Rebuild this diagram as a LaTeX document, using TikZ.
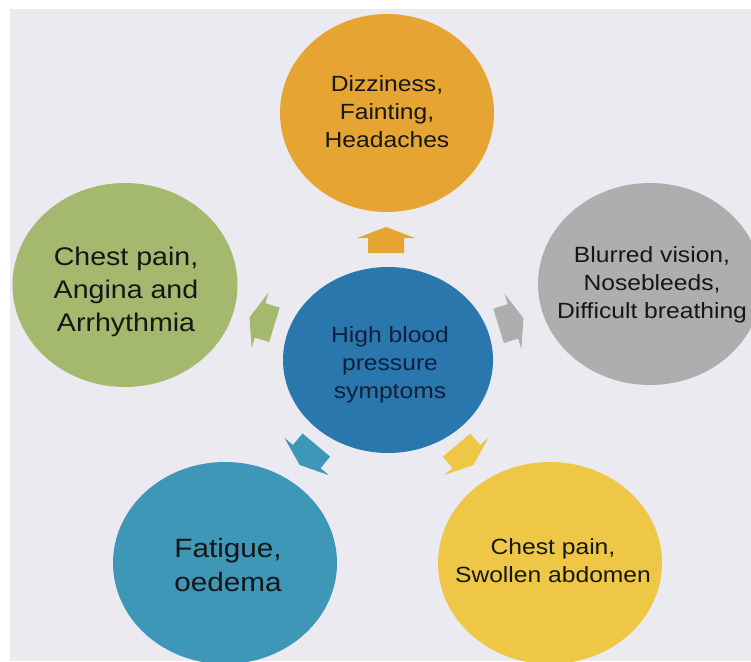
\documentclass[tikz,border=0pt]{standalone}
\usepackage{fontspec}
\setmainfont[FakeStretch=1.12]{Liberation Sans}
\usetikzlibrary{shapes.geometric}
\definecolor{bgC}{HTML}{EBEAF0}
\definecolor{orangeC}{HTML}{E6A532}
\definecolor{greenC}{HTML}{A4B96E}
\definecolor{grayC}{HTML}{ADAFAE}
\definecolor{blueC}{HTML}{2A77AD}
\definecolor{tealC}{HTML}{3E97B6}
\definecolor{yellowC}{HTML}{EFC746}
\definecolor{txtC}{HTML}{161616}
\definecolor{navyC}{HTML}{10203C}
\tikzset{
  bubble/.style={ellipse, inner sep=0pt, outer sep=0pt, draw=none},
  lbl/.style={align=center, inner sep=0pt, text=txtC},
  fsmall/.style={font=\fontsize{22}{28}\selectfont},
  fbig/.style={font=\fontsize{25.5}{33}\selectfont},
  blockarrow/.pic={\fill[#1] (-13,-18) -- (2,-18) -- (2,-29) -- (13,0) -- (2,29) -- (2,18) -- (-13,18) -- cycle;}
}
\begin{document}
\begin{tikzpicture}[x=1pt,y=-1pt]
\useasboundingbox (0,0) rectangle (751,661);
\clip (0,0) rectangle (751,661);
\fill[white] (0,0) rectangle (751,661);
\fill[bgC] (10,9) rectangle (751,661);
% bubbles
\node[bubble, fill=orangeC, minimum width=214pt, minimum height=198pt] (top) at (387,113) {};
\node[bubble, fill=greenC, minimum width=225pt, minimum height=204pt] (left) at (125,285) {};
\node[bubble, fill=grayC, minimum width=224pt, minimum height=202pt] (right) at (650,284) {};
\node[bubble, fill=blueC, minimum width=210pt, minimum height=186pt] (hub) at (388,360) {};
\node[bubble, fill=tealC, minimum width=224pt, minimum height=202pt] (botleft) at (225,563) {};
\node[bubble, fill=yellowC, minimum width=224pt, minimum height=202pt] (botright) at (550,563) {};
% labels
\node[lbl, fsmall] (ttop) at (387,112) {Dizziness,\\Fainting,\\Headaches};
\node[lbl, fbig] (tleft) at (126,292) {Chest pain,\\Angina and\\Arrhythmia};
\node[lbl, fsmall] (tright) at (652,285) {Blurred vision,\\Nosebleeds,\\Difficult breathing};
\node[lbl, fsmall, text=navyC] (thub) at (390,365) {High blood\\pressure\\symptoms};
\node[lbl, font=\fontsize{26.5}{34}\selectfont] (tbotleft) at (228,565) {Fatigue,\\oedema};
\node[lbl, fsmall] (tbotright) at (553,561) {Chest pain,\\Swollen abdomen};
% arrows
\pic[rotate=90] (atop) at (386,240) {blockarrow=orangeC};
\pic[rotate=163] (aleft) at (262,321) {blockarrow=greenC};
\pic[rotate=17] (aright) at (511,322) {blockarrow=grayC};
\pic[rotate=230] (abl) at (308,455) {blockarrow=tealC};
\pic[rotate=310] (abr) at (465,455) {blockarrow=yellowC};
\end{tikzpicture}
\end{document}
